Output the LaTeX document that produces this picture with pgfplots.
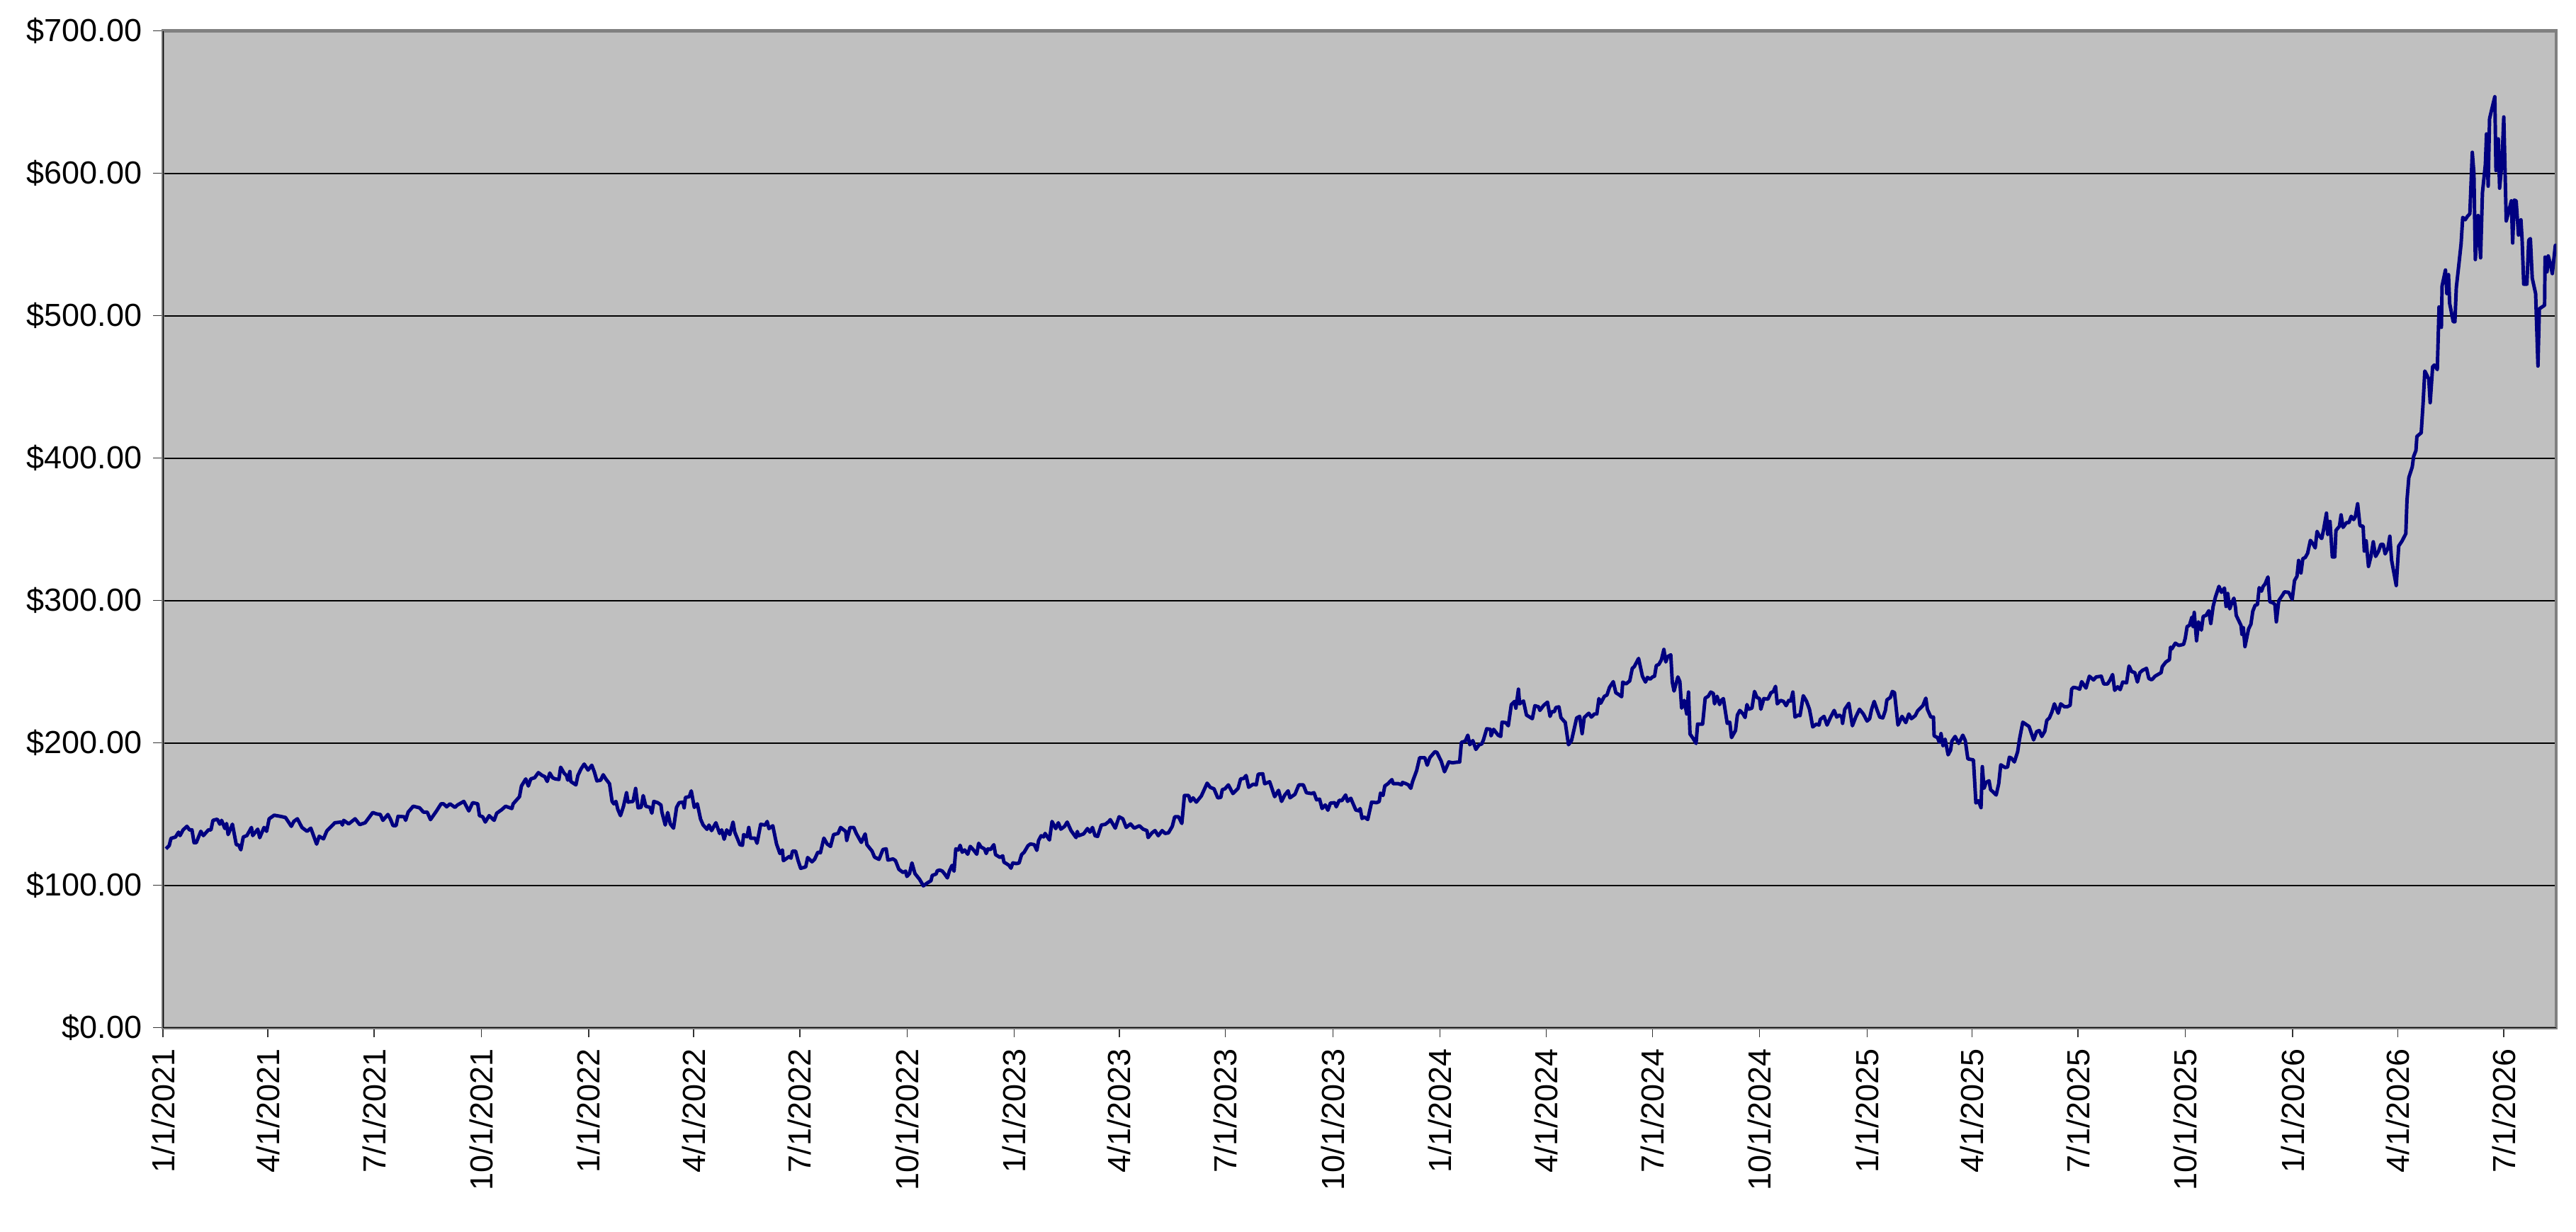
\documentclass[border=0pt]{standalone}
\usepackage{pgfplots}
\pgfplotsset{compat=1.18}
\usepackage{pgfplotstable}
\usepackage{fontspec}
\setmainfont{Liberation Sans}
\definecolor{plotgray}{HTML}{C0C0C0}
\definecolor{navyline}{HTML}{000080}
\definecolor{bordergray}{HTML}{808080}
\pgfplotstableread{
x y
2.6 125.7
5.4 128
6.9 133
10.8 134
13.4 137.4
14.7 135
17.3 139
20.6 141.5
22.8 139
24.9 139
26.7 130
28.6 130
32.5 138
34.7 135
39.0 139
41.2 139
42.9 145.7
46.6 146.5
48.8 143
50.3 145.7
53.1 140
54.6 143.5
55.9 135.7
59.6 143
62.9 128.6
65.0 128.3
66.8 125
68.9 134
72.0 135
75.9 140.7
77.0 135
81.3 139.5
83.0 133.5
86.7 140.7
88.9 138
91.1 146.8
95.4 149.3
100.8 148.5
105.1 147.7
110.1 141.5
112.3 145
115.3 146.8
119.2 140.7
123.6 138
126.8 140.2
131.8 129
134.0 134.5
137.7 132.7
140.5 138.2
147.4 144
152.8 144.5
153.9 142.4
155.0 145.7
159.3 143.2
164.8 146.8
168.7 142.7
173.4 144
179.9 151.2
183.2 150.2
186.4 149.8
188.6 145.7
192.9 149.8
195.1 146.5
197.3 142
199.9 142
201.6 148.5
207.0 148.2
208.1 145.7
210.3 151.5
214.6 155.6
220.1 154.5
223.3 151.5
226.6 151.5
229.4 146.2
234.6 152.3
238.5 157.3
240.6 157.3
243.3 155.2
246.1 157.3
250.4 154.8
252.6 156.5
258.0 159
262.3 152.3
265.6 158.1
269.9 157.3
271.4 149
274.2 148.2
276.4 144.5
279.7 149
284.0 145.7
286.2 150.7
290.5 153.2
293.8 155.6
299.2 154
300.3 157.3
305.7 162.3
307.4 169.8
311.1 174.8
313.3 169.8
315.4 174.8
318.7 175.6
321.9 179.2
325.2 177.2
327.4 176.4
329.5 173
331.7 178.9
334.1 175.6
336.3 174.8
339.5 174.4
341.0 183
343.9 178.9
346.0 177.2
347.1 173.9
348.9 180
349.7 173
354.1 170.6
355.8 177.2
358.4 181.7
361.2 185.2
364.5 181
367.7 184.4
369.9 179.7
372.1 173.4
375.3 173.9
377.5 177.7
379.7 174.8
382.9 171.4
385.1 159
386.6 157.3
388.4 159
390.1 153.2
392.3 149
394.9 155.6
397.5 165.1
398.8 158.5
403.1 159
405.3 168.1
407.4 154.5
410.0 154.8
411.8 163.1
414.0 155.6
417.6 154.8
419.2 150.7
420.9 159
424.2 158.1
427.0 156.5
427.8 151.5
430.7 142.4
432.8 151.2
435.0 143.2
437.8 140.2
440.4 154.8
442.6 158.1
445.9 158.5
446.9 154.5
448.0 161.8
451.3 162.3
453.0 166.4
455.6 154.8
458.2 157.3
461.0 146.5
463.2 142.4
466.5 139.4
468.2 142.4
470.4 138.5
474.1 144
477.3 136.5
479.1 139
481.2 132.4
483.4 139
486.0 135.7
488.8 144.5
490.3 137.4
494.7 128.6
496.9 128.2
497.9 135.7
500.8 134.1
502.3 140.7
503.8 133.2
507.7 133.2
509.4 129.6
512.5 142.9
516.4 142.4
518.1 144.9
519.6 139.9
522.9 141.9
526.1 129.1
529.0 122.4
531.1 124.9
532.0 117.4
537.0 120.3
538.5 119.1
539.8 124.1
542.4 124.1
544.6 117.4
546.8 112
551.1 113
552.8 119.6
556.5 116.6
558.7 118.3
561.5 123.3
563.7 122.9
566.7 133.2
569.5 129.1
572.4 127.4
575.0 135.7
578.9 136.5
581.0 140.7
585.4 137.9
586.3 131.6
589.1 140.7
592.3 140.7
594.5 136.5
598.8 130.2
602.1 136.2
603.6 128.6
608.0 124.1
610.1 119.9
614.0 118.3
617.3 125.2
620.1 125.7
621.6 117.8
626.0 118.6
628.1 117.4
631.0 111.3
634.6 109.1
636.8 110
637.9 106.3
640.1 108.3
642.2 115.8
644.8 108.3
648.8 104.2
652.0 99.7
655.3 101.7
658.5 103.3
659.6 107
662.9 108
663.9 110.3
666.1 110.8
668.3 110
670.0 108.3
672.6 105.3
674.4 110.3
676.6 114.1
678.3 110
679.8 125.7
682.0 124.9
683.5 128.2
685.3 123.3
687.4 124.9
690.0 121.9
692.2 127.4
695.0 124.9
697.8 121.9
699.4 129.6
701.5 126.9
704.3 125.7
705.9 122.4
707.4 125.7
709.6 125.2
712.4 128.6
713.9 121.6
717.8 119.6
720.0 120.8
721.1 116.3
723.2 115.3
725.4 114.1
727.1 112.1
728.7 115.8
731.9 115.3
734.1 115.8
736.2 121.6
738.4 123.3
741.7 127.9
743.8 129.1
747.1 128.6
749.3 124.6
750.8 131.6
753.0 134.9
755.1 134.1
756.4 136.5
760.1 131.9
762.3 144.9
765.5 139.9
767.7 144
769.9 139.5
773.1 141.5
775.3 144.5
778.6 138.5
782.9 133.6
784.0 137.9
785.1 134.9
789.4 136.2
792.7 139.9
794.8 137.4
797.0 140.7
799.2 134.9
801.4 134.4
804.6 142.4
807.9 142.9
811.1 144.9
812.2 146.2
814.4 143.2
816.5 140.2
819.8 148.2
823.0 146.8
825.9 140.7
829.6 143.2
832.8 140.2
837.2 141.9
840.4 139.5
843.7 138.5
844.7 133.6
848.0 136.9
850.6 138.5
853.4 134.9
856.7 138.5
859.3 136.5
862.1 136.9
865.4 141.5
867.5 148.2
870.8 148.2
873.6 143.5
875.8 163.1
879.5 163.1
881.0 159
883.2 161.5
886.0 158.5
890.3 162.8
895.3 171.8
897.9 168.9
901.2 167.8
904.4 161.5
907.0 161.8
908.3 167.3
910.5 167.8
913.5 170.6
917.4 164.5
921.8 168.1
924.0 174.8
926.6 175.1
928.7 177.2
930.9 168.9
934.8 171.1
937.4 170.6
939.1 178.1
943.0 178.4
944.6 171.4
948.9 172.8
953.2 162.3
956.5 166.8
959.1 159
961.9 163.5
964.7 166.4
966.3 161.5
970.6 164
973.9 170.6
977.8 170.6
980.4 165.1
984.7 164.5
986.9 165.1
989.1 160.1
991.7 160.6
993.8 154
996.6 156.5
998.8 152.8
1001.0 157.8
1004.7 158.1
1006.0 155.2
1008.6 159.8
1010.8 159.5
1014.0 163.5
1015.7 159
1018.5 161.2
1020.0 158.2
1022.8 152.9
1025.5 152.4
1026.5 154
1028.1 147
1030.2 148
1033.0 146.3
1036.3 158.5
1040.6 158.1
1042.8 158.9
1043.9 164.8
1046.1 163.2
1047.6 169.8
1050.4 171.5
1053.7 174.3
1054.7 171.5
1059.1 171.5
1061.9 170.6
1062.8 172.3
1065.6 171.5
1067.8 170.6
1069.9 168.2
1071.5 173.1
1074.9 180.6
1077.5 189.7
1081.9 189.7
1084.0 184.4
1086.2 189.7
1090.6 193.9
1092.3 193.4
1096.0 187.2
1098.8 179.8
1102.5 186.7
1105.7 186.1
1107.9 186.4
1111.8 186.7
1113.3 200.5
1116.6 201.3
1118.8 205.5
1120.5 198.8
1123.1 201.7
1125.7 195.5
1128.5 198.8
1130.7 199.3
1132.2 202.2
1135.0 210
1138.3 209.6
1138.7 205
1140.9 209.6
1144.8 205.5
1147.0 204.6
1148.1 214.6
1151.3 214.3
1153.5 212.1
1156.1 227
1158.9 229.2
1160.0 224.5
1162.2 237.8
1163.2 227.5
1166.5 229.5
1169.1 219.6
1171.9 218.2
1174.1 217.1
1176.3 226.2
1179.5 225.4
1180.6 222.9
1183.9 226.5
1187.1 228.7
1189.3 218.7
1190.8 222
1193.0 222
1194.3 224.9
1196.9 225.4
1198.6 217.9
1201.2 215.4
1202.3 214.6
1205.1 198.8
1207.7 201.7
1212.1 217.6
1214.7 218.7
1216.8 206.6
1218.6 217.9
1222.5 220.9
1224.7 218.2
1227.3 220.4
1229.4 220.4
1231.2 231.2
1232.7 227.9
1235.9 232.8
1238.1 233.7
1240.3 239.1
1243.5 243.1
1245.7 235.3
1247.9 234.2
1250.7 232.5
1251.6 242.8
1254.4 241.5
1257.6 243.6
1259.8 252.4
1261.5 253.6
1265.2 259.4
1268.5 246.9
1271.1 242.8
1272.8 246.1
1275.0 244.8
1277.2 246.4
1278.9 246.9
1280.4 254.4
1282.6 255.2
1284.8 258.5
1286.9 265.7
1288.5 256.9
1290.2 260.7
1292.8 261.9
1294.1 242.8
1295.6 236.5
1298.9 246.4
1300.6 243.1
1302.1 224.5
1304.3 229.9
1306.5 220.4
1308.0 235.8
1309.3 206.3
1311.9 203.3
1314.5 199.7
1315.8 213.3
1320.1 213.3
1322.3 231.5
1324.9 232.8
1327.1 235.8
1329.3 234.8
1330.3 227.5
1332.5 232.8
1334.7 227
1336.2 229.9
1337.9 231.2
1341.2 213.8
1343.4 214.6
1344.9 203.8
1348.3 208.8
1349.9 219.6
1352.0 222.9
1354.8 220.4
1356.5 217.9
1358.1 227
1359.6 223.7
1362.4 224.5
1364.6 236.2
1366.7 232
1368.9 231.2
1370.0 223.7
1372.6 231.2
1376.1 230.8
1378.7 235.3
1380.8 236.2
1382.6 239.8
1384.1 227.5
1386.9 229.9
1389.5 229.2
1391.7 226.2
1393.9 229.9
1395.6 229.5
1397.5 235.8
1399.3 218.2
1402.1 219.6
1403.6 219.2
1406.4 233.2
1409.1 229.5
1411.7 223.7
1413.0 218.2
1414.5 211.3
1417.7 213.3
1419.9 212.6
1421.0 216.6
1424.2 218.7
1426.8 212.6
1429.7 217.9
1432.9 222.9
1435.1 218.2
1437.3 219.6
1439.4 218.2
1440.1 213.8
1442.0 223.7
1445.5 227.9
1448.5 212.1
1451.4 218.2
1454.6 223.7
1457.9 220.4
1461.1 215.4
1463.3 217.1
1465.0 223.7
1467.2 229.2
1469.8 222.9
1472.0 218.2
1474.6 217.6
1476.8 222.9
1478.1 230.3
1481.1 232
1482.8 236.2
1484.6 235.4
1487.6 212.6
1491.1 218.7
1494.3 214.3
1496.9 220.4
1499.1 217.1
1502.4 219.2
1504.5 222.6
1508.9 226.2
1511.5 231.5
1512.8 223.7
1515.8 218.2
1518.0 218.2
1518.6 205
1521.5 203.8
1523.0 200.5
1524.5 206.6
1526.2 198
1528.0 202.7
1530.6 191.7
1532.7 195
1533.8 201.3
1536.6 204.6
1539.7 199.7
1543.2 205.5
1545.3 201.7
1547.5 188.9
1552.3 188.1
1554.4 157.9
1556.6 159.5
1558.8 154.6
1559.9 183.4
1561.4 168.2
1563.1 172.3
1565.7 173.5
1567.0 167.3
1571.8 163.5
1574.0 171.5
1575.7 184.7
1579.4 182.8
1581.6 183.1
1583.1 190
1584.8 189.4
1587.4 186.7
1590.2 193.9
1591.8 202.7
1594.6 214.6
1600.0 211.6
1602.2 206.3
1603.9 202.2
1606.5 208
1608.7 208.8
1610.9 204.6
1613.5 208.3
1615.2 215.9
1617.4 217.6
1619.5 221.6
1621.7 227.5
1625.0 220.9
1627.1 227.5
1630.4 225.4
1632.6 225.4
1635.2 226.5
1636.5 237.8
1638.0 239.1
1641.2 238.6
1643.4 237.8
1645.1 243.1
1648.8 238.6
1651.7 246.9
1655.3 244.3
1657.5 246.4
1661.9 246.9
1664.0 241.5
1667.3 241.5
1669.5 244.4
1671.6 248.1
1673.4 237
1676.0 239.5
1678.1 237.5
1680.3 242.8
1683.6 242.3
1685.7 254.1
1687.9 250.2
1690.7 249.4
1692.9 242.8
1695.0 249.4
1697.4 251.1
1700.7 252.4
1702.7 245.3
1705.1 244.4
1708.2 247
1713.2 249.4
1714.2 253.6
1717.3 256.9
1720.3 258.5
1721.3 267.3
1722.3 266
1725.4 270.1
1728.4 268.5
1732.5 269.3
1733.9 273.5
1735.5 281.8
1737.5 282.6
1739.6 288.4
1740.6 281.8
1741.6 291.7
1743.6 271.8
1745.2 285.1
1747.7 279.3
1749.3 288.9
1751.7 289.6
1754.1 292.9
1755.8 283.9
1757.8 295.9
1759.8 302.5
1762.8 310
1764.9 305.8
1767.5 308.8
1768.9 295.9
1770.3 305
1772.0 294.2
1774.0 298.8
1775.6 301.7
1777.0 295
1777.6 289.6
1781.7 282.6
1782.5 276.3
1783.7 281
1785.1 267.7
1788.2 280.1
1790.2 283.4
1791.8 292.5
1793.8 296.7
1795.8 297.2
1797.3 309.1
1799.3 306.6
1800.7 310
1802.3 311.6
1804.8 316.6
1806.4 299.2
1809.4 298.3
1810.8 297.2
1812.0 285.1
1814.1 300
1817.5 304.1
1818.9 306.1
1822.6 305.8
1825.6 300.8
1827.6 314.1
1829.7 317.1
1831.1 328.2
1833.1 319.4
1834.7 329.4
1836.8 330.3
1838.8 333.2
1841.2 342.3
1843.8 339.3
1845.3 337
1846.9 348.6
1848.9 345.3
1850.9 343.6
1852.5 349.8
1855.0 361.4
1856.0 346.4
1857.0 348.1
1858.0 355.6
1860.0 330.7
1862.1 330.7
1863.1 349.3
1866.1 352.2
1867.5 360.2
1869.2 351.4
1872.2 354.8
1874.2 354.7
1876.2 359.2
1878.3 356.9
1879.7 358.9
1881.7 368
1883.7 352.6
1886.4 352.2
1887.4 334.8
1889.0 342
1891.0 324
1893.1 331
1895.1 341.3
1897.1 331
1899.6 334.6
1901.6 339.5
1903.6 339.5
1905.3 332.8
1907.7 337
1909.3 345.2
1910.8 328.4
1914.8 310.6
1916.9 338.3
1919.9 342
1923.0 347
1924.0 370.4
1925.6 386.4
1928.5 393.8
1929.7 401.2
1931.7 405.4
1932.5 415.3
1936.2 417.8
1937.8 438.3
1939.3 461.2
1942.7 455.6
1943.9 439
1946.0 464.2
1947.4 465.4
1950.0 462.2
1951.5 506.2
1953.5 491.9
1954.1 521
1957.0 532.1
1958.2 515.6
1959.6 528.9
1960.6 508.6
1963.7 495.8
1965.1 495.8
1966.3 519.8
1968.8 538.3
1970.4 550.6
1971.8 569.1
1973.9 567.4
1975.9 569.9
1977.9 571.6
1980.0 614.8
1981.4 600
1982.6 539.5
1985.0 570.4
1987.1 540.7
1988.7 586.4
1991.2 606.2
1992.2 627.7
1993.6 591
1994.8 638.3
1996.9 645.7
1999.3 653.8
2000.3 602
2002.3 624.2
2003.4 589.6
2005.4 607.4
2007.0 639.6
2009.1 566.6
2011.1 572.8
2013.5 580.7
2014.6 551.1
2016.0 581.2
2017.6 580.7
2019.6 556.7
2021.7 567.4
2022.7 553.5
2024.1 522.2
2026.8 522.2
2028.4 553
2029.8 554.2
2031.4 526.4
2034.3 515.6
2036.3 464.7
2037.5 504.9
2042.0 507.4
2042.4 541.2
2044.1 530.9
2045.1 542
2047.1 535.8
2048.6 529.6
2051.2 549.4
2052.0 549.4
}\pricedata
\begin{document}
\begin{tikzpicture}
\useasboundingbox (0,0) rectangle (808pt,386.4pt);
\begin{axis}[
  at={(51.1pt,64pt)}, anchor=south west,
  scale only axis, width=750.7pt, height=312.7pt,
  xmin=0, xmax=2052, ymin=0, ymax=700,
  axis background/.style={fill=plotgray},
  axis line style={draw=bordergray, line width=1pt},
  xtick={0,90,181,273,365,455,546,638,730,820,911,1003,1095,1186,1277,1369,1461,1551,1642,1734,1826,1916,2007},
  xticklabels={1/1/2021,4/1/2021,7/1/2021,10/1/2021,1/1/2022,4/1/2022,7/1/2022,10/1/2022,1/1/2023,4/1/2023,7/1/2023,10/1/2023,1/1/2024,4/1/2024,7/1/2024,10/1/2024,1/1/2025,4/1/2025,7/1/2025,10/1/2025,1/1/2026,4/1/2026,7/1/2026},
  ytick={0,100,200,300,400,500,600,700},
  yticklabels={\$0.00,\$100.00,\$200.00,\$300.00,\$400.00,\$500.00,\$600.00,\$700.00},
  ymajorgrids,
  major grid style={black, line width=0.4pt},
  tick align=outside, major tick length=3pt,
  tick style={black!80, line width=0.3pt},
  xtick pos=bottom, ytick pos=left,
  ticklabel style={font=\fontsize{10}{12}\selectfont},
  x tick label style={rotate=90, anchor=east},
  y tick label style={anchor=east},
]
\addplot[navyline, line width=1.1pt, line join=round, mark=none] table[x=x,y=y] {\pricedata};
\draw[black, line width=0.5pt] (axis cs:0,700) -- (axis cs:0,0) -- (axis cs:2052,0);
\end{axis}
\end{tikzpicture}
\end{document}
